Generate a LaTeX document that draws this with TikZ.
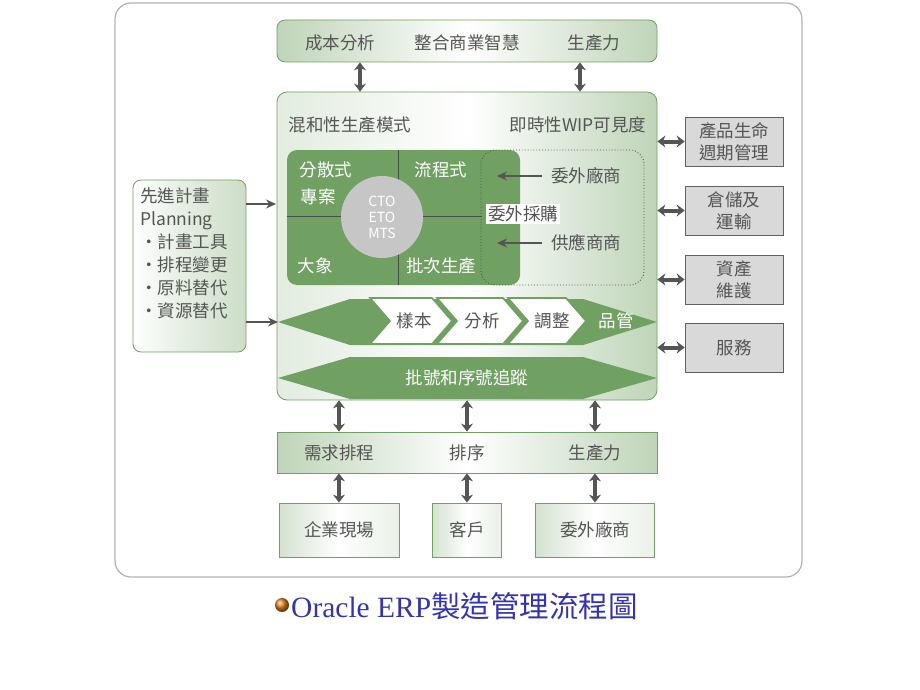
\documentclass[tikz,border=0pt]{standalone}
\usepackage{fontspec}
\setmainfont{Noto Sans CJK TC}
\newfontfamily\capfont{Liberation Serif}
\usetikzlibrary{arrows.meta}
\definecolor{leafgreen}{RGB}{112,160,98}
\definecolor{inkgray}{RGB}{85,85,85}
\definecolor{capblue}{RGB}{52,52,178}
\begin{document}
\begin{tikzpicture}[x=1pt,y=-1pt,
    font=\fontsize{17.5}{20}\selectfont,
    txt/.style={text=inkgray,inner sep=1pt},
    wtxt/.style={text=white,inner sep=1pt},
    bar/.style={draw=leafgreen,line width=0.8pt,inner sep=0pt,
      left color=leafgreen!45,right color=leafgreen!45,middle color=white},
    lightbox/.style={draw=leafgreen,line width=0.8pt,inner sep=0pt,
      left color=leafgreen!30,right color=leafgreen!15,middle color=white,
      text=inkgray},
    graybox/.style={draw=gray!75!black,fill=gray!30,line width=0.6pt,
      minimum width=98pt,minimum height=49pt,text=inkgray,align=center,
      font=\fontsize{17.5}{22}\selectfont},
    chev/.style={fill=white,draw=leafgreen,line width=1.6pt,line join=miter},
    link/.style={inkgray,line width=4pt,
      {Stealth[length=8pt,width=12pt]}-{Stealth[length=8pt,width=12pt]}},
    feed/.style={inkgray,line width=1.3pt,-{Stealth[length=10pt,width=9pt]}}]
  \useasboundingbox (0,0) rectangle (920,690);
  \draw[gray!60,line width=1.2pt,rounded corners=16pt] (115,3) rectangle (802,577);

  % top bar and main block
  \node[bar,rounded corners=8pt,minimum width=380pt,minimum height=42pt] (top) at (467,41) {};
  \node[txt] (cost) at (340,43) {成本分析};
  \node[txt] (bi) at (467,43) {整合商業智慧};
  \node[txt] (yield) at (594,43) {生產力};
  \node[draw=leafgreen,line width=0.8pt,rounded corners=10pt,inner sep=0pt,
    minimum width=380pt,minimum height=308pt,
    left color=leafgreen!20,right color=leafgreen!45,middle color=white] (main) at (467,246) {};
  \coordinate (ta) at (360,62);
  \coordinate (tb) at (580,62);
  \draw[link] (top.south -| ta) -- (main.north -| ta);
  \draw[link] (top.south -| tb) -- (main.north -| tb);
  \node[txt] (mix) at (350,125) {混和性生產模式};
  \node[txt] (wip) at (578,125) {即時性WIP可見度};

  % production modes
  \node[fill=leafgreen,rounded corners=10pt,inner sep=0pt,
    minimum width=233pt,minimum height=135pt] (quad) at (403.5,217.5) {};
  \draw[black!70,line width=1pt] (398,150) -- (398,285);
  \draw[black!70,line width=1pt] (287,216) -- (482,216);
  \node[draw=inkgray,dotted,line width=0.9pt,rounded corners=14pt,
    minimum width=163pt,minimum height=135pt] (outs) at (562.5,217.5) {};
  \node[circle,fill=gray!45,minimum size=82pt,inner sep=0pt,align=center,
    text=white,font=\fontsize{14}{16}\selectfont] (mode) at (382,217) {CTO\\ETO\\MTS};
  \node[wtxt] (q1) at (326,170) {分散式};
  \node[wtxt] (q1b) at (318,197) {專案};
  \node[wtxt] (q2) at (441,170) {流程式};
  \node[wtxt] (q3) at (315,266) {大象};
  \node[wtxt] (q4) at (441,266) {批次生產};
  \node[fill=white,text=inkgray,inner sep=2pt] (buy) at (523,214) {委外採購};
  \node[txt] (sub) at (586,176) {委外廠商};
  \node[txt] (sup) at (586,243) {供應商商};
  \coordinate (subtip) at (497,176);
  \coordinate (suptip) at (497,243);
  \draw[feed] ([xshift=-8pt]sub.west) -- (subtip);
  \draw[feed] ([xshift=-8pt]sup.west) -- (suptip);

  % quality chevrons
  \fill[leafgreen] (278,322) coordinate (hexA) -- (350,299) -- (583,299)
    -- (657,322) -- (583,345) -- (350,345) -- cycle;
  \foreach \xa/\xb in {370/432, 437/503, 508/566} {
    \draw[chev] (\xa,298) -- (\xb,298) -- (\xb+20,321) -- (\xb,344)
      -- (\xa,344) -- (\xa+20,321) -- cycle;
  }
  \node[txt] (c1) at (414,321) {樣本};
  \node[txt] (c2) at (482,321) {分析};
  \node[txt] (c3) at (552,321) {調整};
  \node[wtxt] (c4) at (616,321) {品管};
  \fill[leafgreen] (278,378) -- (350,357) -- (583,357)
    -- (657,378) -- (583,399) -- (350,399) -- cycle;
  \node[wtxt] (lot) at (467,378) {批號和序號追蹤};

  % planning
  \node[lightbox,rounded corners=8pt,minimum width=113pt,minimum height=172pt,
    left color=white,right color=leafgreen!35,middle color=white!80!leafgreen] (plan) at (189.5,266) {};
  \node[txt,align=left,anchor=north west,font=\fontsize{17.5}{23}\selectfont] (plantxt) at (139,187)
    {先進計畫\\Planning\\・計畫工具\\・排程變更\\・原料替代\\・資源替代};
  \coordinate (inA) at (276,204);
  \draw[feed] (plan.east |- inA) -- (inA);
  \draw[feed] (plan.east |- hexA) -- (hexA);

  % side modules
  \foreach[count=\i] \lbl/\yy in {{產品生命\\週期管理}/141.5,{倉儲及\\運輸}/210.5,
      {資產\\維護}/279.5,服務/347.5} {
    \node[graybox] (side-\i) at (734,\yy) {\lbl};
    \draw[link] (main.east |- side-\i) -- (side-\i.west);
  }

  % scheduling bar and sites
  \node[bar,minimum width=380pt,minimum height=41pt] (sched) at (467,452.5) {};
  \foreach[count=\i] \lbl/\xx/\ww/\site in {需求排程/339/120/企業現場,
      排序/467/69/客戶,生產力/595/119/委外廠商} {
    \node[txt] (d-\i) at (\xx,453) {\lbl};
    \node[lightbox,minimum width=\ww pt,minimum height=54pt] (b-\i) at (\xx,530) {\site};
    \draw[link] (main.south -| d-\i) -- (sched.north -| d-\i);
    \draw[link] (sched.south -| d-\i) -- (b-\i.north);
  }

  % caption
  \node[circle,ball color=orange!55!brown,minimum size=14pt,inner sep=0pt] (dot) at (282,605) {};
  \node[anchor=west,text=capblue,inner sep=0pt,font=\fontsize{29.5}{32}\selectfont]
    (cap) at (291,606) {\capfont Oracle ERP\normalfont 製造管理流程圖};
\end{tikzpicture}
\end{document}
